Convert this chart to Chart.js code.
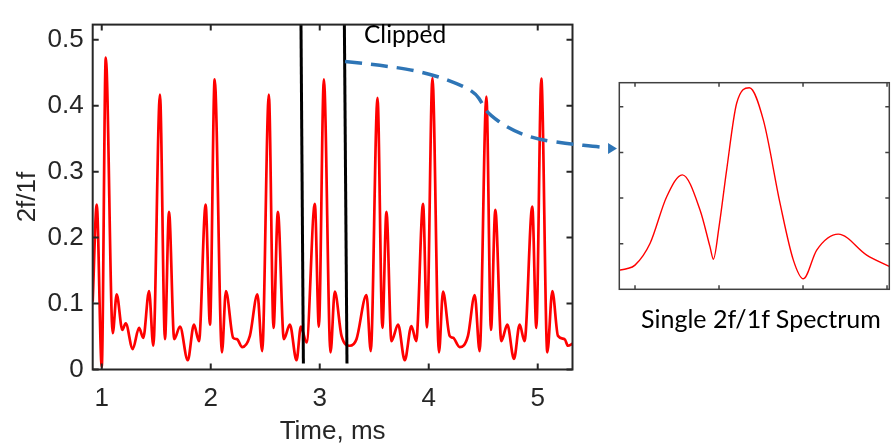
<!DOCTYPE html>
<html>
<head>
<meta charset="utf-8">
<script src="https://cdn.jsdelivr.net/npm/chart.js@4.4.0/dist/chart.umd.min.js"></script>
<style>
  html, body { margin: 0; padding: 0; background: #fff; }
  #wrap { position: relative; width: 891px; height: 446px; overflow: hidden; }
  #main { position: absolute; left: 0; top: 0; }
  #spec { position: absolute; left: 600px; top: 70px; }
  .note { position: absolute; font-family: Lato, "Open Sans", sans-serif; color: #000; line-height: 1; white-space: nowrap; }
</style>
</head>
<body>
<div id="wrap">
  <canvas id="main" width="891" height="446"></canvas>
  <canvas id="spec" width="291" height="230"></canvas>
  <div class="note" style="left:364px;top:21.5px;font-size:24.5px">Clipped</div>
  <div class="note" style="left:641px;top:306px;font-size:25px">Single 2f/1f Spectrum</div>
</div>
<script>
// main trace (time in ms, 2f/1f ratio)
const timeMs = [0.917, 0.954, 1.000, 1.037, 1.101, 1.137, 1.189, 1.220, 1.284, 1.342, 1.381, 1.434, 1.473,
  1.534, 1.580, 1.617, 1.665, 1.718, 1.789, 1.846, 1.892, 1.953, 1.993, 2.036, 2.103, 2.139, 2.206, 2.240,
  2.289, 2.359, 2.428, 2.472, 2.533, 2.576, 2.616, 2.671, 2.726, 2.787, 2.827, 2.879, 2.955, 2.992, 3.038,
  3.099, 3.138, 3.200, 3.276, 3.337, 3.429, 3.468, 3.530, 3.575, 3.612, 3.658, 3.719, 3.780, 3.841, 3.885,
  3.948, 3.984, 4.034, 4.094, 4.131, 4.192, 4.224, 4.284, 4.360, 4.422, 4.467, 4.529, 4.571, 4.611, 4.666,
  4.721, 4.782, 4.834, 4.879, 4.950, 4.987, 5.033, 5.088, 5.134, 5.186, 5.247, 5.277, 5.319];
const ratio2f1f = [0.103, 0.250, 0.004, 0.473, 0.055, 0.114, 0.060, 0.070, 0.031, 0.063, 0.048, 0.119, 0.036,
  0.417, 0.046, 0.239, 0.046, 0.065, 0.014, 0.068, 0.043, 0.250, 0.068, 0.440, 0.026, 0.119, 0.048, 0.046,
  0.034, 0.051, 0.114, 0.028, 0.417, 0.063, 0.239, 0.046, 0.068, 0.014, 0.065, 0.041, 0.251, 0.065, 0.440,
  0.026, 0.118, 0.051, 0.036, 0.046, 0.113, 0.028, 0.412, 0.063, 0.239, 0.043, 0.068, 0.014, 0.066, 0.043,
  0.251, 0.064, 0.442, 0.026, 0.118, 0.051, 0.048, 0.034, 0.051, 0.113, 0.028, 0.414, 0.060, 0.242, 0.043,
  0.068, 0.016, 0.068, 0.043, 0.247, 0.063, 0.441, 0.026, 0.119, 0.051, 0.046, 0.036, 0.039];
const timeTicks = [1, 2, 3, 4, 5];
const ratioTicks = [0, 0.1, 0.2, 0.3, 0.4, 0.5];

// clipping window (two black markers)
const clipStartTime = [2.828, 2.850];
const clipEndTime = [3.226, 3.250];
const clipLevels = [0.523, 0.009];

// dashed pointer from the window to the inset, in main-chart units
const pointerTime = [3.232, 3.706, 4.042, 4.317, 4.434, 4.489, 4.535, 4.746, 4.991, 5.296, 5.541, 5.645];
const pointerLevel = [0.467, 0.459, 0.447, 0.430, 0.418, 0.404, 0.389, 0.364, 0.349, 0.342, 0.338, 0.336];
const pointerTip = [5.727, 0.335];

// inset spectrum
const specBin = [-0.187, -0.10, 0.0, 0.18, 0.377, 0.563, 0.774, 0.893, 0.933, 1.0, 1.091, 1.21, 1.361,
  1.528, 1.726, 1.885, 2.004, 2.163, 2.42, 2.758, 3.027];
const specLevel = [0.42, 0.45, 0.53, 1.01, 2.03, 2.51, 1.74, 0.93, 0.66, 1.37, 2.62, 4.08, 4.42,
  3.71, 1.89, 0.64, 0.23, 0.86, 1.21, 0.75, 0.50];
const specBinTicks = [0, 1, 2, 3];
const specLevelTicks = [1, 2, 3, 4];

const pairs = (xs, ys) => xs.map((x, i) => ({ x: x, y: ys[i] }));

// MATLAB-like box with inward ticks on all four sides
const framePlugin = {
  id: 'frame',
  afterDatasetsDraw(chart, args, opts) {
    const { ctx, chartArea: a } = chart;
    const x = chart.scales.x, y = chart.scales.y;
    ctx.save();
    ctx.strokeStyle = opts.color;
    ctx.lineWidth = opts.width;
    ctx.beginPath();
    opts.xTicks.forEach(v => {
      const px = x.getPixelForValue(v);
      ctx.moveTo(px, a.bottom); ctx.lineTo(px, a.bottom - opts.len);
      ctx.moveTo(px, a.top); ctx.lineTo(px, a.top + opts.len);
    });
    opts.yTicks.forEach(v => {
      const py = y.getPixelForValue(v);
      ctx.moveTo(a.left, py); ctx.lineTo(a.left + opts.len, py);
      ctx.moveTo(a.right, py); ctx.lineTo(a.right - opts.len, py);
    });
    ctx.stroke();
    ctx.strokeRect(a.left, a.top, a.right - a.left, a.bottom - a.top);
    ctx.restore();
  }
};

const pointerPlugin = {
  id: 'pointer',
  afterDraw(chart) {
    const { ctx } = chart;
    const x = chart.scales.x, y = chart.scales.y;
    const pts = pointerTime.map((t, i) => [x.getPixelForValue(t), y.getPixelForValue(pointerLevel[i])]);
    ctx.save();
    ctx.strokeStyle = '#2e75b6';
    ctx.fillStyle = '#2e75b6';
    ctx.lineWidth = 3.5;
    ctx.setLineDash([17, 9]);
    ctx.beginPath();
    ctx.moveTo(pts[0][0], pts[0][1]);
    for (let i = 1; i < pts.length - 1; i++) {
      const mx = (pts[i][0] + pts[i + 1][0]) / 2, my = (pts[i][1] + pts[i + 1][1]) / 2;
      ctx.quadraticCurveTo(pts[i][0], pts[i][1], mx, my);
    }
    ctx.lineTo(pts[pts.length - 1][0], pts[pts.length - 1][1]);
    ctx.stroke();
    ctx.setLineDash([]);
    const tx = x.getPixelForValue(pointerTip[0]), ty = y.getPixelForValue(pointerTip[1]);
    const bx = pts[pts.length - 1][0];
    ctx.beginPath();
    ctx.moveTo(tx, ty);
    ctx.lineTo(bx, ty - 5.5);
    ctx.lineTo(bx, ty + 5.5);
    ctx.closePath();
    ctx.fill();
    ctx.restore();
  }
};

const axisFont = { family: '"Liberation Sans", Arial, sans-serif', size: 26 };

new Chart(document.getElementById('main'), {
  type: 'line',
  data: {
    datasets: [
      { data: pairs(clipStartTime, clipLevels), borderColor: '#000', borderWidth: 3, order: 0 },
      { data: pairs(clipEndTime, clipLevels), borderColor: '#000', borderWidth: 3, order: 0 },
      { data: pairs(timeMs, ratio2f1f), borderColor: '#ff0000', borderWidth: 2.7, cubicInterpolationMode: 'monotone', order: 1 }
    ]
  },
  options: {
    responsive: false,
    animation: false,
    layout: { padding: { top: 15, right: 318.5, left: 0, bottom: 0 } },
    elements: { point: { radius: 0 } },
    plugins: {
      legend: { display: false },
      tooltip: { enabled: false },
      frame: { color: '#262626', width: 2, len: 6, xTicks: timeTicks, yTicks: ratioTicks }
    },
    scales: {
      x: {
        type: 'linear', min: 0.917, max: 5.319,
        afterFit: s => { s.height = 76.5; },
        afterBuildTicks: s => { s.ticks = timeTicks.map(v => ({ value: v })); },
        grid: { display: false, drawTicks: false },
        border: { display: false },
        ticks: { padding: 14, color: '#262626', font: axisFont, maxRotation: 0 },
        title: { display: true, text: 'Time, ms', color: '#262626', font: { family: axisFont.family, size: 26, lineHeight: 1.1 }, padding: 0 }
      },
      y: {
        type: 'linear', min: 0, max: 0.523,
        afterFit: s => { s.width = 92.7; },
        afterBuildTicks: s => { s.ticks = ratioTicks.map(v => ({ value: v })); },
        grid: { display: false, drawTicks: false },
        border: { display: false },
        ticks: { padding: 9, color: '#262626', font: axisFont, callback: v => v === 0 ? '0' : v.toFixed(1) },
        title: { display: true, text: '2f/1f', color: '#262626', font: { family: axisFont.family, size: 26, lineHeight: 1.1 }, padding: { top: 14 } }
      }
    }
  },
  plugins: [framePlugin, pointerPlugin]
});

new Chart(document.getElementById('spec'), {
  type: 'line',
  data: {
    datasets: [
      { data: pairs(specBin, specLevel), borderColor: '#ff0000', borderWidth: 1.4, cubicInterpolationMode: 'monotone' }
    ]
  },
  options: {
    responsive: false,
    animation: false,
    layout: { padding: { left: 19.3, top: 12.7, right: 1.7, bottom: 10.7 } },
    elements: { point: { radius: 0 } },
    plugins: {
      legend: { display: false },
      tooltip: { enabled: false },
      frame: { color: '#404040', width: 1.5, len: 4, xTicks: specBinTicks, yTicks: specLevelTicks }
    },
    scales: {
      x: { type: 'linear', min: -0.187, max: 3.027, display: false },
      y: { type: 'linear', min: 0, max: 4.53, display: false }
    }
  },
  plugins: [framePlugin]
});
</script>
</body>
</html>
